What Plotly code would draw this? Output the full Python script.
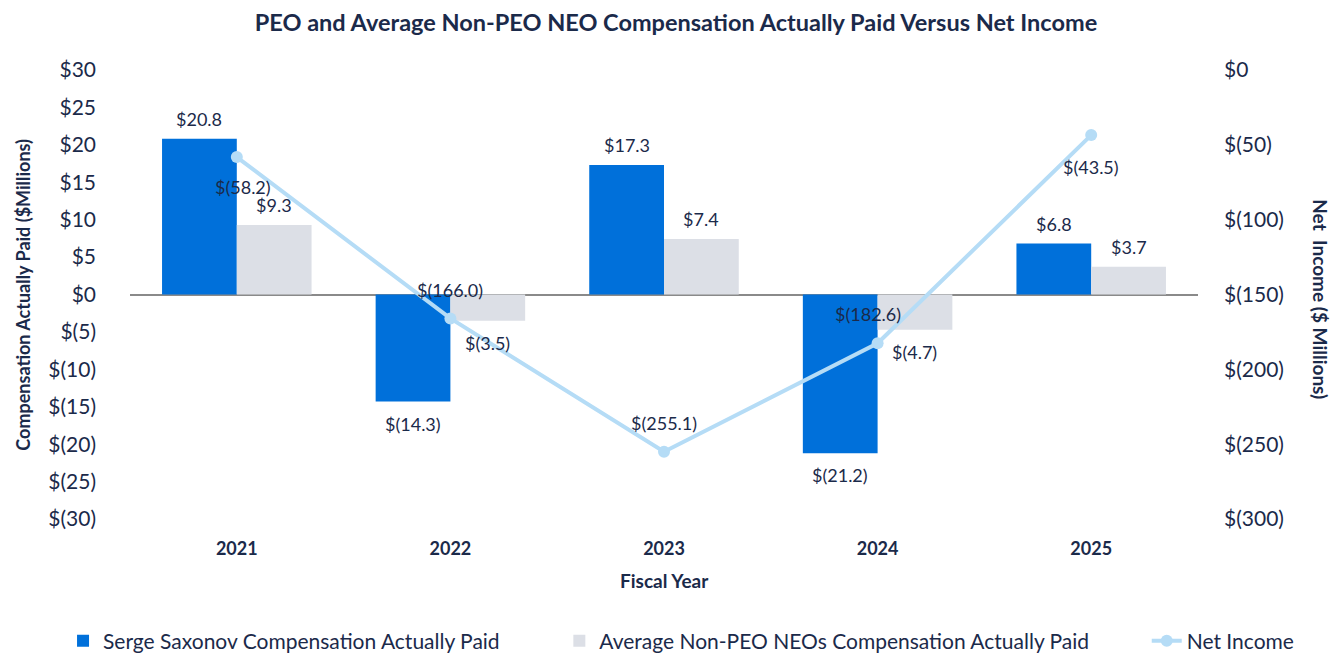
import plotly.graph_objects as go

years = ["2021", "2022", "2023", "2024", "2025"]
peo_cap = [20.8, -14.3, 17.3, -21.2, 6.8]
neo_cap = [9.3, -3.5, 7.4, -4.7, 3.7]
net_income = [-58.2, -166.0, -255.1, -182.6, -43.5]

left_ticks = [30, 25, 20, 15, 10, 5, 0, -5, -10, -15, -20, -25, -30]
right_ticks = [0, -50, -100, -150, -200, -250, -300]

# style: label offsets for net income labels (pixels)
ni_yshift = [-30, 28, 29, 29, -32]
ni_xshift = [6, 0, 0, -10, 0]

NAVY = "#1b2a4a"
BLUE = "#0070da"
GRAY = "#dcdfe6"
LINE = "#b5dcf6"
FONT = "Lato, Noto Sans, sans-serif"


def money(v, dec=1):
    s = f"{abs(v):.{dec}f}"
    return f"$({s})" if v < 0 else f"${s}"


fig = go.Figure()
fig.add_trace(go.Bar(x=years, y=peo_cap, name="Serge Saxonov Compensation Actually Paid",
                     marker=dict(color=BLUE, line=dict(width=0)), yaxis="y",
                     legend="legend"))
fig.add_trace(go.Bar(x=years, y=neo_cap, name="Average Non-PEO NEOs Compensation Actually Paid",
                     marker=dict(color=GRAY, line=dict(width=0)), yaxis="y",
                     legend="legend2"))
fig.add_trace(go.Scatter(x=years, y=net_income, name="Net Income", yaxis="y2",
                         mode="lines+markers",
                         line=dict(color=LINE, width=4),
                         marker=dict(color=LINE, size=12),
                         legend="legend3"))

ann = []
for i, (a, b) in enumerate(zip(peo_cap, neo_cap)):
    for off, v in ((-0.175, a), (0.175, b)):
        ann.append(dict(x=i + off, y=v, xref="x", yref="y", text=money(v),
                        showarrow=False, yshift=20 if v >= 0 else -22,
                        font=dict(family=FONT, size=18, color=NAVY)))
for i, v in enumerate(net_income):
    ann.append(dict(x=i, y=v, xref="x", yref="y2", text=money(v),
                    showarrow=False, yshift=ni_yshift[i], xshift=ni_xshift[i],
                    font=dict(family=FONT, size=18, color=NAVY)))

ann.append(dict(x=-0.101, y=0.5, xref="paper", yref="paper", showarrow=False,
                xanchor="center", yanchor="middle",
                text="<b>Compensation Actually Paid ($Millions)</b>", textangle=-90,
                font=dict(family=FONT, size=18, color=NAVY)))
ann.append(dict(x=1.114, y=0.49, xref="paper", yref="paper", showarrow=False,
                xanchor="center", yanchor="middle",
                text="<b>Net\u00a0\u00a0Income ($ Millions)</b>", textangle=90,
                font=dict(family=FONT, size=19, color=NAVY)))
ann.append(dict(x=0.5, y=-0.1378, xref="paper", yref="paper", showarrow=False,
                xanchor="center", yanchor="middle",
                text="<b>Fiscal Year</b>",
                font=dict(family=FONT, size=19, color=NAVY)))

legend_common = dict(orientation="h", xanchor="left", y=-0.269, yanchor="middle",
                     font=dict(family=FONT, size=21, color=NAVY), bgcolor="rgba(0,0,0,0)")

fig.update_layout(
    width=1336, height=664,
    margin=dict(l=122, r=146, t=62, b=152),
    paper_bgcolor="white", plot_bgcolor="white",
    title=dict(text="<b>PEO and Average Non-PEO NEO Compensation Actually Paid Versus Net Income</b>",
               x=0.5, xanchor="center", y=0.977, yanchor="middle",
               font=dict(family=FONT, size=23.5, color=NAVY)),
    font=dict(family=FONT, color=NAVY),
    barmode="group", bargap=0.3, bargroupgap=0,
    xaxis=dict(type="category", range=[-0.5, 4.5], showgrid=False, showline=False,
               tickfont=dict(family=FONT, size=18, color=NAVY, weight="bold"),
               ticklabelstandoff=17, zeroline=False),
    yaxis=dict(range=[-30, 30], tickvals=left_ticks,
               ticktext=[money(t, 0) for t in left_ticks],
               showgrid=False, zeroline=True, zerolinecolor="#8a8a8a", zerolinewidth=1.5,
               showline=False, tickfont=dict(family=FONT, size=21, color=NAVY),
               ticklabelstandoff=33),
    yaxis2=dict(range=[-300, 0], overlaying="y", side="right", tickvals=right_ticks,
                ticktext=[money(t, 0) for t in right_ticks],
                showgrid=False, zeroline=False, showline=False,
                tickfont=dict(family=FONT, size=21, color=NAVY),
                ticklabelstandoff=25),
    legend=dict(x=-0.0627, **legend_common),
    legend2=dict(x=0.402, **legend_common),
    legend3=dict(x=0.952, **legend_common),
    annotations=ann,
    showlegend=True,
)

fig.write_html("out.html")
